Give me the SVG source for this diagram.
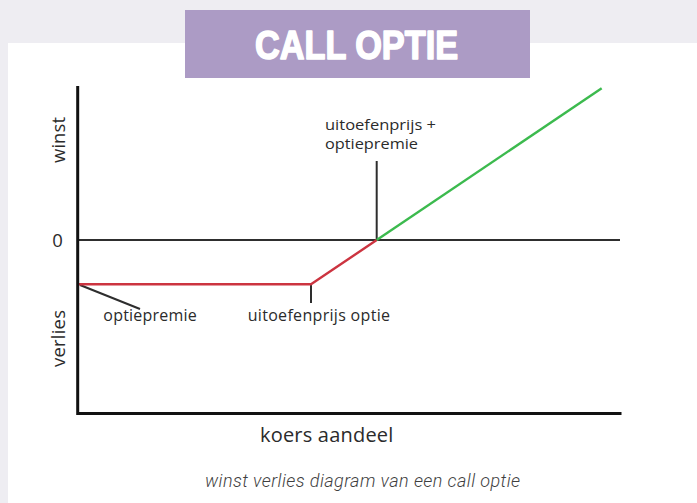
<svg xmlns="http://www.w3.org/2000/svg" width="697" height="503" viewBox="0 0 697 503">
  <style>
    .lbl { font-family: "Open Sans", "DejaVu Sans", sans-serif; fill: #2b2b2b; }
    .small { font-size: 16px; }
    .axis-lbl { font-size: 18.5px; }
    .axis { stroke: #111; stroke-width: 3; fill: none; stroke-linecap: square; }
    .thin { stroke: #2e2e2e; stroke-width: 2; fill: none; }
    .red { stroke: #cc3440; stroke-width: 2.4; fill: none; stroke-linejoin: round; }
    .green { stroke: #3cba4e; stroke-width: 2.4; fill: none; }
  </style>
  <rect x="0" y="0" width="697" height="503" fill="#eeedf2"/>
  <rect x="8" y="43" width="689" height="460" fill="#ffffff"/>

  <g id="title">
    <rect x="185" y="10" width="345" height="68" fill="#ac9bc5"/>
    <text x="255" y="59" font-family="Liberation Sans, Arial, sans-serif" font-weight="bold" font-size="40" fill="#ffffff" stroke="#ffffff" stroke-width="1.6" stroke-linejoin="round" textLength="203" lengthAdjust="spacingAndGlyphs">CALL OPTIE</text>
  </g>

  <g id="connectors">
    <line class="thin" x1="78" y1="240" x2="620" y2="240"/>
    <line class="thin" x1="376.7" y1="161" x2="376.7" y2="240"/>
    <line class="thin" x1="311" y1="284.3" x2="311" y2="303"/>
    <line class="thin" x1="80" y1="285" x2="140" y2="309"/>
    <polyline class="red" points="78,284.3 311,284.3 376.7,240"/>
    <line class="green" x1="376.7" y1="240" x2="601.7" y2="88.3"/>
  </g>

  <g id="axes">
    <polyline class="axis" points="77.7,87.5 77.7,413.5 620,413.5"/>
  </g>

  <g id="label-winst">
    <text class="lbl axis-lbl" transform="translate(64.5,140) rotate(-90)" text-anchor="middle" textLength="46">winst</text>
  </g>
  <g id="label-zero">
    <text class="lbl axis-lbl" x="57.5" y="246.5" text-anchor="middle">0</text>
  </g>
  <g id="label-verlies">
    <text class="lbl axis-lbl" transform="translate(64.5,338.5) rotate(-90)" text-anchor="middle" textLength="57">verlies</text>
  </g>
  <g id="label-break-even">
    <text class="lbl" font-size="14.5" x="325" y="130" textLength="111" lengthAdjust="spacingAndGlyphs">uitoefenprijs +</text>
    <text class="lbl" font-size="14.5" x="325" y="149" textLength="93" lengthAdjust="spacingAndGlyphs">optiepremie</text>
  </g>
  <g id="label-optiepremie">
    <text class="lbl small" x="103.3" y="321" textLength="93.4">optiepremie</text>
  </g>
  <g id="label-uitoefenprijs">
    <text class="lbl small" x="247.7" y="321" textLength="142.3">uitoefenprijs optie</text>
  </g>
  <g id="label-koers">
    <text class="lbl" font-size="20" x="260" y="442.3" textLength="133.3">koers aandeel</text>
  </g>
  <g id="caption">
    <text x="205" y="487" font-family="Roboto, 'Liberation Sans', sans-serif" font-style="italic" font-weight="300" font-size="18" fill="#3f3f3f" textLength="315">winst verlies diagram van een call optie</text>
  </g>
</svg>
